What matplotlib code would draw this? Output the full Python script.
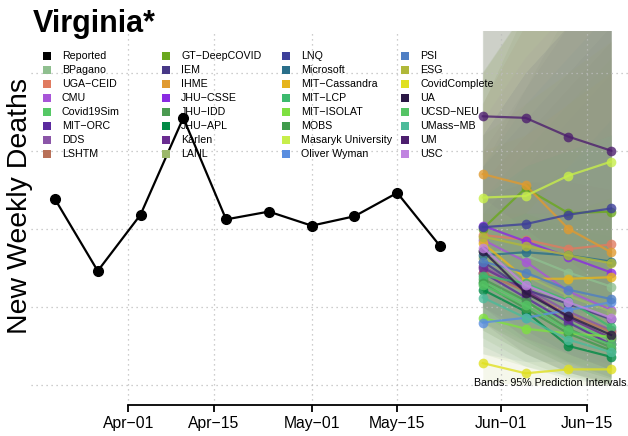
import numpy as np
import matplotlib.pyplot as plt
import matplotlib.dates as mdates
from matplotlib.colors import to_rgb
from matplotlib.patches import Rectangle

plt.rcParams['font.family'] = ['Liberation Sans', 'DejaVu Sans']

# reported weekly deaths
rep_dates = np.array(['2020-03-20', '2020-03-27', '2020-04-03', '2020-04-10', '2020-04-17',
                      '2020-04-24', '2020-05-01', '2020-05-08', '2020-05-15', '2020-05-22'],
                     dtype='datetime64[D]')
rep_vals = [119, 73, 109, 171, 106, 111, 102, 108, 123, 89]

# forecast targets
fc_dates = np.array(['2020-05-29', '2020-06-05', '2020-06-12', '2020-06-19'], dtype='datetime64[D]')

models = ['BPagano', 'UGA\u2212CEID', 'CMU', 'Covid19Sim', 'MIT\u2212ORC', 'DDS', 'LSHTM',
          'GT\u2212DeepCOVID', 'IEM', 'IHME', 'JHU\u2212CSSE', 'JHU\u2212IDD', 'JHU\u2212APL', 'Karlen', 'LANL',
          'LNQ', 'Microsoft', 'MIT\u2212Cassandra', 'MIT\u2212LCP', 'MIT\u2212ISOLAT', 'MOBS',
          'Masaryk University', 'Oliver Wyman',
          'PSI', 'ESG', 'CovidComplete', 'UA', 'UCSD\u2212NEU', 'UMass\u2212MB', 'UM', 'USC']
colors = ['#8fbf8f', '#e07b60', '#a855d8', '#55c865', '#5b2a9e', '#8b55a8', '#b87058',
          '#6aa81e', '#473887', '#e09a30', '#8a2be2', '#4a9a50', '#008a45', '#6a2c91', '#9cb86a',
          '#3d3f9a', '#2a6f8a', '#e6b41c', '#3cba6e', '#7ee040', '#3f9b4c', '#c7ee4a', '#5a8ee0',
          '#4f7fc4', '#b0b83a', '#e0e020', '#2b1845', '#55c465', '#4cbb9a', '#4d1f6e', '#c084e0']

# point forecasts
point = [
    [86, 83, 72, 63], [96, 93, 87, 90], [93, 79, 60, 48], [66, 53, 40, 29], [72, 56, 40, 26],
    [76, 62, 47, 35], [72, 60, 45, 34], [100, 126, 110, 111], [79, 61, 52, 42], [135, 128, 100, 85],
    [102, 92, 82, 72], [68, 54, 36, 24], [61, 47, 25, 18], [75, 61, 43, 30], [81, 70, 57, 47],
    [101, 103, 109, 113], [83, 85, 83, 79], [91, 68, 68, 69], [70, 65, 54, 37], [43, 36, 33, 31],
    [65, 49, 33, 22], [120, 121, 134, 143], [40, 43, 48, 53], [79, 72, 61, 55], [95, 89, 83, 78],
    [14, 7.5, 10, 10], [86, 59, 44, 32], [64, 51, 35, 26], [56, 43, 29, 21], [172, 171, 159, 150],
    [88, 64, 53, 43]]

# 95% prediction intervals
lower = [
    [60, 45, 30, 20], [70, 55, 40, 30], [65, 45, 25, 12], [40, 25, 12, 4], [45, 28, 14, 5],
    [50, 30, 15, 5], [35, 20, 8, 0], [60, 70, 50, 40], [50, 30, 20, 10], [100, 80, 50, 30],
    [70, 50, 35, 20], [30, 15, 5, 0], [35, 20, 8, 2], [50, 35, 20, 10], [55, 40, 25, 15],
    [70, 60, 55, 50], [55, 45, 35, 25], [60, 35, 25, 20], [45, 35, 20, 10], [20, 12, 6, 2],
    [40, 25, 12, 4], [80, 70, 70, 70], [20, 15, 15, 15], [50, 35, 20, 10], [65, 50, 40, 30],
    [2, 0, 0, 0], [40, 20, 8, 0], [40, 28, 15, 8], [25, 12, 4, 0], [120, 100, 80, 60],
    [50, 30, 20, 10]]
upper = [
    [240, 260, 270, 280], [130, 160, 190, 220], [150, 190, 230, 260], [100, 120, 140, 160], [110, 140, 170, 200],
    [140, 190, 240, 280], [180, 230, 260, 290], [180, 240, 260, 280], [120, 150, 180, 210], [200, 240, 260, 280],
    [160, 200, 230, 250], [200, 240, 270, 290], [100, 110, 100, 95], [120, 130, 130, 125], [235, 250, 260, 270],
    [160, 200, 230, 260], [140, 170, 200, 230], [150, 160, 180, 200], [120, 140, 150, 160], [90, 100, 110, 120],
    [110, 110, 100, 95], [200, 240, 280, 300], [80, 110, 140, 170], [140, 180, 210, 240], [160, 180, 200, 220],
    [40, 40, 45, 50], [230, 260, 280, 300], [100, 110, 110, 105], [120, 140, 150, 160], [250, 280, 300, 320],
    [170, 210, 240, 260]]

tick_dates = np.array(['2020-04-01', '2020-04-15', '2020-05-01', '2020-05-15', '2020-06-01', '2020-06-15'],
                      dtype='datetime64[D]')
tick_labels = ['Apr\u221201', 'Apr\u221215', 'May\u221201', 'May\u221215', 'Jun\u221201', 'Jun\u221215']
grid_y = [0, 50, 100, 150, 200]

W, H = 628, 436
fig = plt.figure(figsize=(W / 100, H / 100), dpi=100)
ax = fig.add_axes([31 / W, (H - 405) / H, 597 / W, 374 / H])

# bands (model colour pulled towards a sage tone)
sage = np.array(to_rgb('#9aab84'))
for c, lo, hi in zip(colors, lower, upper):
    fc = 0.35 * np.array(to_rgb(c)) + 0.65 * sage
    ax.fill_between(fc_dates, lo, hi, color=fc, alpha=0.12, lw=0, zorder=1)

# grid
for y in grid_y:
    ax.axhline(y, color='#bdbdbd', lw=0.9, ls=(0, (1, 3)), zorder=2)
for d in tick_dates:
    ax.axvline(d, color='#bdbdbd', lw=0.9, ls=(0, (1, 3)), zorder=2)

# forecasts
for c, p in zip(colors, point):
    ax.plot(fc_dates, p, color=c, lw=1.6, alpha=0.8, marker='o', ms=7, mew=0, zorder=3)

ax.plot(rep_dates, rep_vals, color='black', lw=1.6, marker='o', ms=7, zorder=4)

apr1 = mdates.date2num(np.datetime64('2020-04-01'))
ax.set_xlim(apr1 - 15.92, apr1 + 81.76)
ax.set_ylim(-12.8, 226.6)

for s in ['left', 'right', 'top']:
    ax.spines[s].set_visible(False)
ax.spines['bottom'].set_bounds(mdates.date2num(tick_dates[0]), mdates.date2num(tick_dates[-1]))
ax.spines['bottom'].set_linewidth(1.3)
ax.set_xticks(tick_dates)
ax.set_xticklabels(tick_labels, fontsize=11.3)
ax.tick_params(axis='x', length=5, width=1.3, pad=3)
ax.set_yticks([])

# title and axis label
fig.text(33 / W, (H - 32) / H, 'Virginia*', fontsize=22, fontweight='bold', ha='left', va='baseline')
fig.text(20 / W, (H - 206) / H, 'New Weekly Deaths', fontsize=20.5, rotation=90, ha='center', va='center')

# legend
names = ['Reported'] + models
cols = ['black'] + colors
for i, (n, c) in enumerate(zip(names, cols)):
    cx = 46.7 + 119.5 * (i // 8)
    cy = 56 + 14 * (i % 8)
    fig.patches.append(Rectangle(((cx - 4) / W, (H - cy - 4) / H), 8 / W, 8 / H,
                                 transform=fig.transFigure, color=c, lw=0, zorder=0))
    fig.text((cx + 15) / W, (H - cy) / H, n, fontsize=7.7, ha='left', va='center', zorder=0)

fig.text(627 / W, (H - 383) / H, 'Bands: 95% Prediction Intervals', fontsize=7.7, ha='right', va='center')

fig.savefig('out.png', dpi=100)
